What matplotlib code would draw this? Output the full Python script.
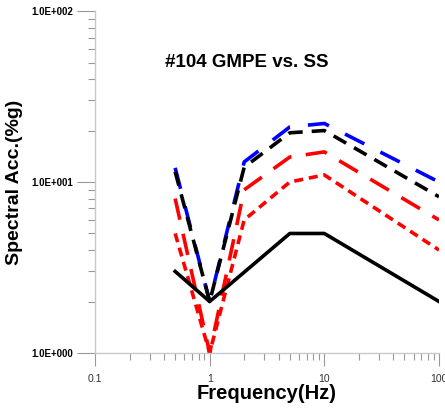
import matplotlib
matplotlib.use("Agg")
import matplotlib.pyplot as plt
from matplotlib.ticker import FixedLocator, LogLocator, NullFormatter, FixedFormatter

freq = [0.5, 1, 2, 5, 10, 100]
blue_long = [12.1, 2.0, 13.1, 21.0, 22.0, 10.0]
black_dash = [11.5, 2.0, 12.2, 19.4, 20.0, 8.2]
red_long = [8.0, 1.0, 9.0, 14.0, 15.0, 6.0]
red_short = [5.0, 1.0, 6.0, 10.0, 11.0, 4.0]

solid_x = [0.5, 1, 5, 10, 100]
solid_y = [3.0, 2.0, 5.0, 5.0, 2.0]

title = "#104 GMPE vs. SS"
xlabel = "Frequency(Hz)"
ylabel = "Spectral Acc.(%g)"
xticks = [0.1, 1, 10, 100]
xticklabels = ["0.1", "1", "10", "100"]
yticks = [1, 10, 100]
yticklabels = ["1.0E+000", "1.0E+001", "1.0E+002"]

plt.rcParams['font.family'] = ['Liberation Sans', 'DejaVu Sans']
fig = plt.figure(figsize=(4.45, 4.09), dpi=100)
ax = fig.add_axes([0.2135, 0.137, 0.773, 0.836])
ax.set_xscale('log')
ax.set_yscale('log')
ax.set_xlim(0.1, 100)
ax.set_ylim(1, 100)

lw = 2.6
ax.plot(freq, blue_long, color='#0000ff', lw=lw, dashes=(6, 5))
ax.plot(freq, black_dash, color='black', lw=lw, dashes=(4, 2.5))
ax.plot(freq, red_long, color='#ff0000', lw=lw, dashes=(6, 4))
ax.plot(freq, red_short, color='#ff0000', lw=lw, dashes=(2.5, 1.6))
ax.plot(solid_x, solid_y, color='black', lw=lw)

for s in ['top', 'right']:
    ax.spines[s].set_visible(False)
for s in ['left', 'bottom']:
    ax.spines[s].set_color('#c8c8c8')
    ax.spines[s].set_linewidth(1.0)

ax.xaxis.set_major_locator(FixedLocator(xticks))
ax.xaxis.set_major_formatter(FixedFormatter(xticklabels))
ax.xaxis.set_minor_locator(LogLocator(base=10, subs=range(2, 10)))
ax.xaxis.set_minor_formatter(NullFormatter())
ax.yaxis.set_major_locator(FixedLocator(yticks))
ax.yaxis.set_major_formatter(FixedFormatter(yticklabels))
ax.yaxis.set_minor_locator(LogLocator(base=10, subs=range(2, 10)))
ax.yaxis.set_minor_formatter(NullFormatter())

ax.tick_params(axis='x', which='major', length=9, color='#999999', width=0.8,
               labelsize=7.5, labelcolor='#333333', pad=6)
ax.tick_params(axis='x', which='minor', length=5, color='#999999', width=0.8)
ax.tick_params(axis='y', which='major', length=13, color='#999999', width=0.8,
               labelsize=7, pad=3)
ax.tick_params(axis='y', which='minor', length=5, color='#999999', width=0.8)
for t in ax.get_yticklabels():
    t.set_fontweight('bold')

ax.set_xlabel(xlabel, fontsize=14.5, fontweight='bold', labelpad=0)
ax.set_ylabel(ylabel, fontsize=14, fontweight='bold', labelpad=6)
ax.text(0.44, 0.85, title, transform=ax.transAxes, ha='center', va='center',
        fontsize=13.5, fontweight='bold')

fig.savefig('out.png', dpi=100)
